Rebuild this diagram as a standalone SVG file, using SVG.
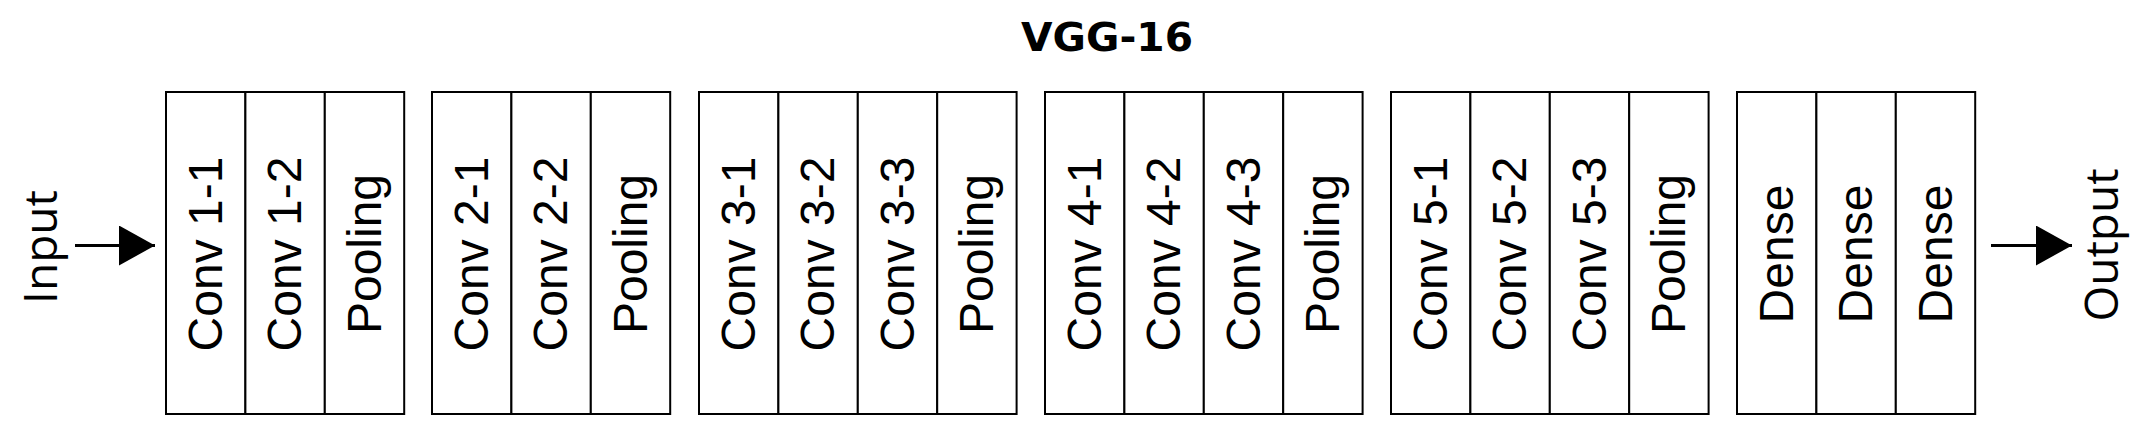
<svg xmlns="http://www.w3.org/2000/svg" width="2151" height="438" viewBox="0 0 2151 438">
<style>
.cell{fill:#fff;stroke:#000;stroke-width:2}
.lbl{font-family:"Liberation Sans",Arial,sans-serif;font-size:48px;fill:#000;text-anchor:middle}
.io{font-family:"Open Sans","Liberation Sans",sans-serif;font-size:46px;fill:#000;text-anchor:middle}
.title{font-family:"DejaVu Sans","Liberation Sans",sans-serif;font-weight:bold;font-size:38.5px;fill:#000;text-anchor:middle}
.conn{stroke:#000;stroke-width:3;fill:none}
</style>
<defs>
<marker id="ah" markerWidth="36" markerHeight="40" refX="36" refY="20" markerUnits="userSpaceOnUse" orient="auto">
<path d="M0,0 L36,20 L0,40 Z" fill="#000"/>
</marker>
</defs>
<rect width="2151" height="438" fill="#fff"/>
<text id="title" class="title" x="1107" y="51" textLength="172" lengthAdjust="spacingAndGlyphs">VGG-16</text>

<g id="input"><text class="io" transform="translate(57,247) rotate(-90)">Input</text></g>
<g id="output"><text class="io" transform="translate(2118,245) rotate(-90)">Output</text></g>

<g id="connectors">
<line class="conn" x1="75" y1="245.5" x2="155" y2="245.5" marker-end="url(#ah)"/>
<line class="conn" x1="1991" y1="245.5" x2="2072" y2="245.5" marker-end="url(#ah)"/>
</g>

<g id="conv1-1"><rect class="cell" x="166" y="92" width="79.4" height="322"/><text class="lbl" transform="translate(221.7,254) rotate(-90)">Conv 1-1</text></g>
<g id="conv1-2"><rect class="cell" x="245.4" y="92" width="79.4" height="322"/><text class="lbl" transform="translate(301.1,254) rotate(-90)">Conv 1-2</text></g>
<g id="pool1"><rect class="cell" x="324.8" y="92" width="79.4" height="322"/><text class="lbl" transform="translate(380.5,254) rotate(-90)">Pooling</text></g>

<g id="conv2-1"><rect class="cell" x="432" y="92" width="79.4" height="322"/><text class="lbl" transform="translate(487.7,254) rotate(-90)">Conv 2-1</text></g>
<g id="conv2-2"><rect class="cell" x="511.4" y="92" width="79.4" height="322"/><text class="lbl" transform="translate(567.1,254) rotate(-90)">Conv 2-2</text></g>
<g id="pool2"><rect class="cell" x="590.8" y="92" width="79.4" height="322"/><text class="lbl" transform="translate(646.5,254) rotate(-90)">Pooling</text></g>

<g id="conv3-1"><rect class="cell" x="699" y="92" width="79.4" height="322"/><text class="lbl" transform="translate(754.7,254) rotate(-90)">Conv 3-1</text></g>
<g id="conv3-2"><rect class="cell" x="778.4" y="92" width="79.4" height="322"/><text class="lbl" transform="translate(834.1,254) rotate(-90)">Conv 3-2</text></g>
<g id="conv3-3"><rect class="cell" x="857.8" y="92" width="79.4" height="322"/><text class="lbl" transform="translate(913.5,254) rotate(-90)">Conv 3-3</text></g>
<g id="pool3"><rect class="cell" x="937.2" y="92" width="79.4" height="322"/><text class="lbl" transform="translate(992.9,254) rotate(-90)">Pooling</text></g>

<g id="conv4-1"><rect class="cell" x="1045" y="92" width="79.4" height="322"/><text class="lbl" transform="translate(1100.7,254) rotate(-90)">Conv 4-1</text></g>
<g id="conv4-2"><rect class="cell" x="1124.4" y="92" width="79.4" height="322"/><text class="lbl" transform="translate(1180.1,254) rotate(-90)">Conv 4-2</text></g>
<g id="conv4-3"><rect class="cell" x="1203.8" y="92" width="79.4" height="322"/><text class="lbl" transform="translate(1259.5,254) rotate(-90)">Conv 4-3</text></g>
<g id="pool4"><rect class="cell" x="1283.2" y="92" width="79.4" height="322"/><text class="lbl" transform="translate(1338.9,254) rotate(-90)">Pooling</text></g>

<g id="conv5-1"><rect class="cell" x="1391" y="92" width="79.4" height="322"/><text class="lbl" transform="translate(1446.7,254) rotate(-90)">Conv 5-1</text></g>
<g id="conv5-2"><rect class="cell" x="1470.4" y="92" width="79.4" height="322"/><text class="lbl" transform="translate(1526.1,254) rotate(-90)">Conv 5-2</text></g>
<g id="conv5-3"><rect class="cell" x="1549.8" y="92" width="79.4" height="322"/><text class="lbl" transform="translate(1605.5,254) rotate(-90)">Conv 5-3</text></g>
<g id="pool5"><rect class="cell" x="1629.2" y="92" width="79.4" height="322"/><text class="lbl" transform="translate(1684.9,254) rotate(-90)">Pooling</text></g>

<g id="dense1"><rect class="cell" x="1737" y="92" width="79.4" height="322"/><text class="lbl" transform="translate(1792.7,254) rotate(-90)">Dense</text></g>
<g id="dense2"><rect class="cell" x="1816.4" y="92" width="79.4" height="322"/><text class="lbl" transform="translate(1872.1,254) rotate(-90)">Dense</text></g>
<g id="dense3"><rect class="cell" x="1895.8" y="92" width="79.4" height="322"/><text class="lbl" transform="translate(1951.5,254) rotate(-90)">Dense</text></g>
</svg>
